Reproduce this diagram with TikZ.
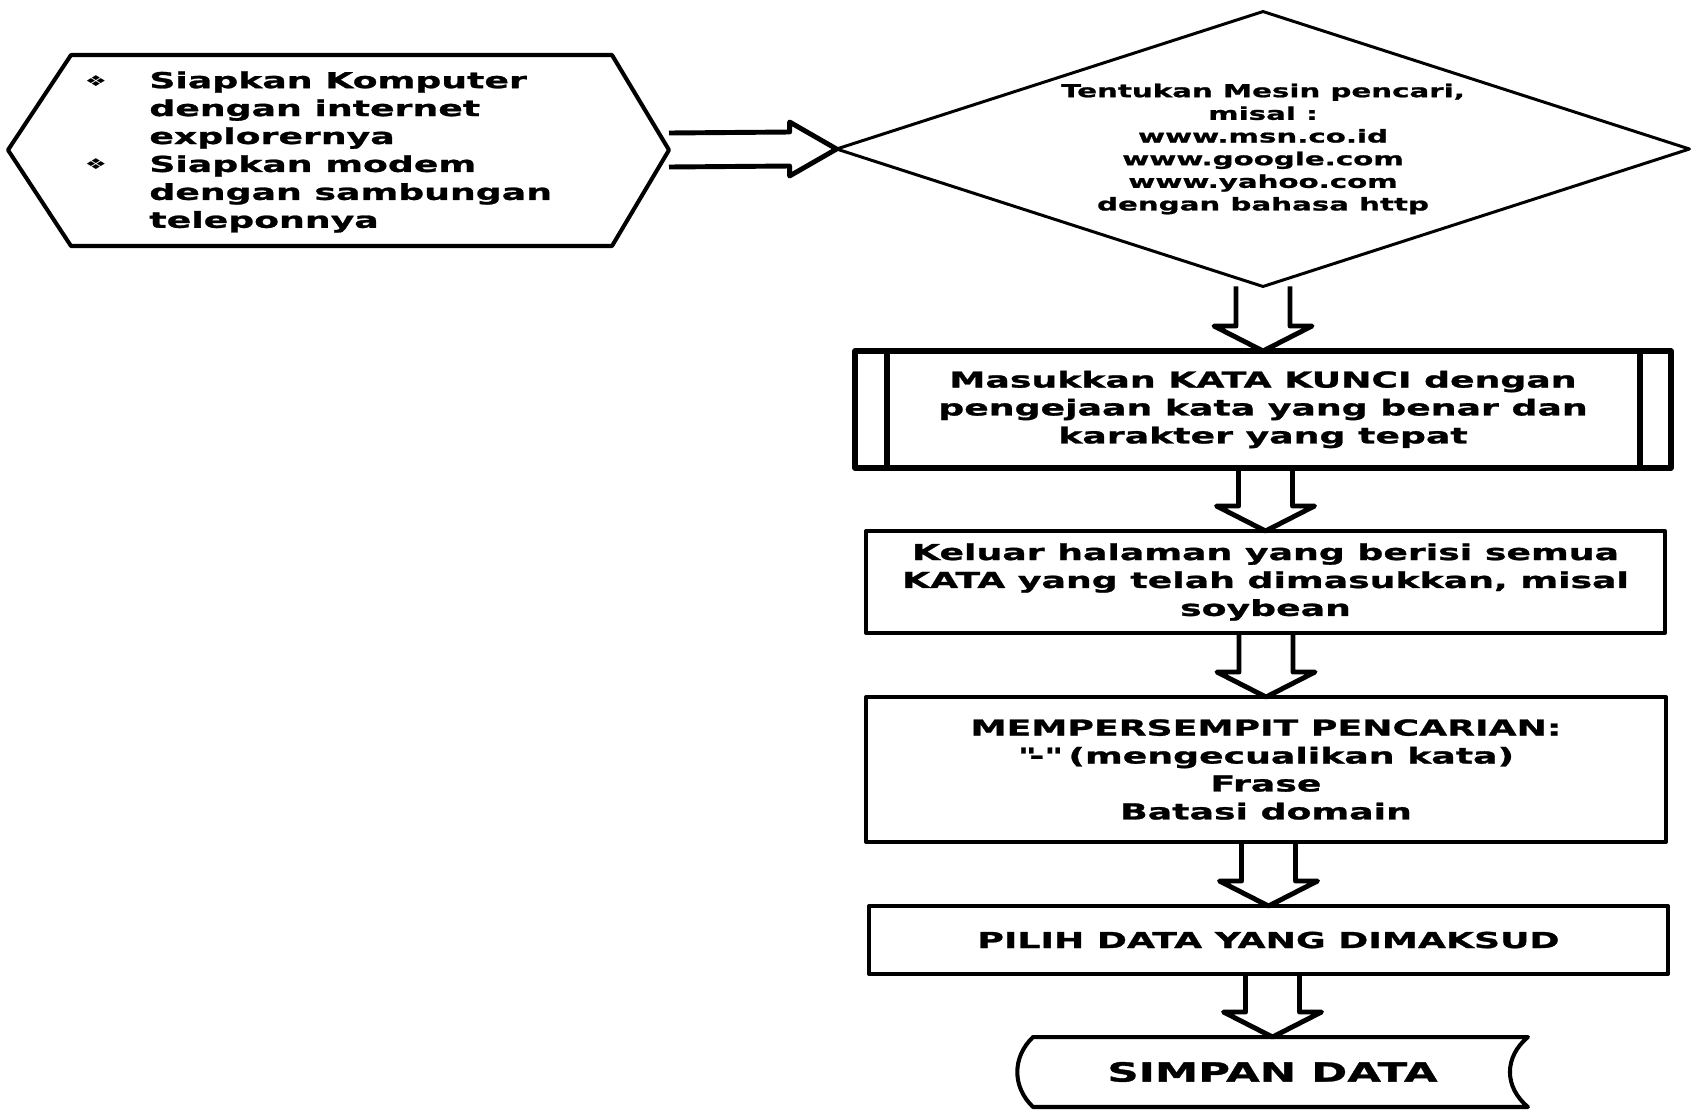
\documentclass[tikz,border=0pt]{standalone}
\usepackage{fontspec}
\setmainfont{DejaVu Sans}[FakeStretch=1.65, BoldFeatures={FakeBold=1.2}]
\usetikzlibrary{shapes.geometric, calc}

\begin{document}
\begin{tikzpicture}[
  x=0.02cm, y=-0.02cm,
  font=\bfseries\fontsize{12.5}{15.9}\selectfont,
  line join=round,
  blk/.style={draw, line width=2.3pt, align=center, inner sep=0pt, outer sep=0pt, minimum width=16cm},
  prc/.style={blk, line width=3.2pt},
  dec/.style={draw, diamond, aspect=3.1, line width=1.7pt, align=center, inner sep=0pt, outer sep=0pt,
    minimum width=17.06cm, minimum height=5.5cm, font=\bfseries\fontsize{10.1}{12.9}\selectfont},
  sto/.style={align=center, inner sep=0pt, outer sep=0pt, minimum width=10.22cm, minimum height=1.4cm,
    font=\bfseries\fontsize{15}{17}\selectfont},
  bul/.style={inner sep=0pt, font=\fontsize{8.5}{8.5}\selectfont},
  harrow/.style={line width=2.8pt},
]
\useasboundingbox (0,0) rectangle (1691,1110);

% Preparation (hexagon)
\coordinate (hexE) at (669,150);
\draw[line width=2.3pt] (8,150) -- (71,55) -- (612,55) -- (hexE) -- (612,246) -- (71,246) -- cycle;
\node[bul] (bulA) at (96,81) {❖};
\node[bul] (bulB) at (96,164) {❖};
\node[anchor=west, align=left, inner sep=0pt] (prep) at (149,152)
  {Siapkan Komputer\\dengan internet\\explorernya\\Siapkan modem\\dengan sambungan\\teleponnya};

% Search engine
\node[dec] (find) at (1263,149)
  {Tentukan Mesin pencari,\\misal :\\www.msn.co.id\\www.google.com\\www.yahoo.com\\dengan bahasa http};

\draw[harrow] ($(hexE)+(0,-17)$) -- ($(find.west)+(-47,-17)$) -- ($(find.west)+(-47,-27)$)
  -- (find.west) -- ($(find.west)+(-47,27)$) -- ($(find.west)+(-47,17)$) -- ($(hexE)+(0,17)$);

% Steps
\node[prc, minimum width=16.32cm, minimum height=2.34cm] (keyw) at (1263,409.5)
  {Masukkan KATA KUNCI dengan\\pengejaan kata yang benar dan\\karakter yang tepat};
\draw[line width=3.2pt] ($(keyw.north west)+(32,0)$) -- ($(keyw.south west)+(32,0)$);
\draw[line width=3.2pt] ($(keyw.north east)+(-31,0)$) -- ($(keyw.south east)+(-31,0)$);

\node[blk, minimum width=15.98cm, minimum height=2.04cm] (result) at (1265.5,582)
  {Keluar halaman yang berisi semua\\KATA yang telah dimasukkan, misal\\soybean};
\node[blk, minimum width=16cm, minimum height=2.9cm] (narrow) at (1266,769.5)
  {MEMPERSEMPIT PENCARIAN:\\\textquotedbl-\textquotedbl\ (mengecualikan kata)\\Frase\\Batasi domain};
\node[blk, minimum width=15.98cm, minimum height=1.36cm] (pick) at (1268.5,940)
  {PILIH DATA YANG DIMAKSUD};

% Stored data
\node[sto] (save) at (1272.5,1072) {SIMPAN DATA};
\draw[line width=2.3pt] ($(save.north west)+(16,0)$) -- (save.north east)
  .. controls +(-24,20) and +(-24,-20) .. (save.south east)
  -- ($(save.south west)+(16,0)$)
  .. controls +(-21,-20) and +(-21,20) .. ($(save.north west)+(16,0)$) -- cycle;

% Hollow arrows down the column
\foreach \a/\b in {find/keyw, keyw/result, result/narrow, narrow/pick, pick/save}
  \draw[harrow] ($(\a.south -| \b.north)+(-27,0)$) -- ($(\b.north)+(-27,-25)$) -- ($(\b.north)+(-49,-25)$)
    -- (\b.north) -- ($(\b.north)+(49,-25)$) -- ($(\b.north)+(27,-25)$) -- ($(\a.south -| \b.north)+(27,0)$);

\end{tikzpicture}
\end{document}
